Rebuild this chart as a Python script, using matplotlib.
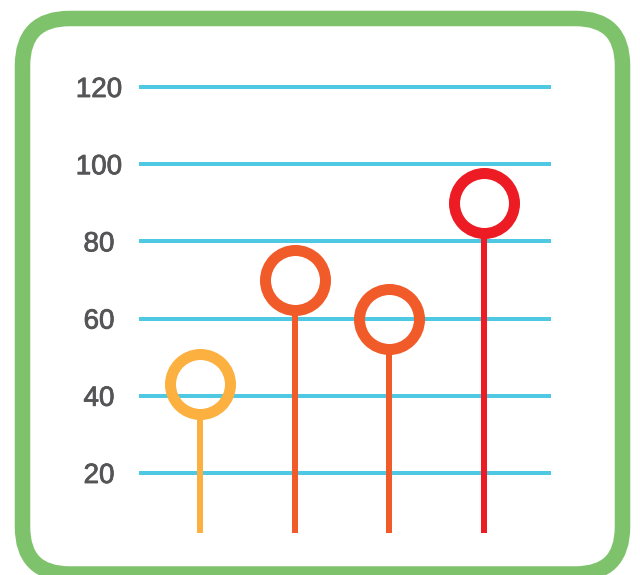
import matplotlib
matplotlib.use("Agg")
import matplotlib.pyplot as plt
from matplotlib.patches import FancyBboxPatch
import matplotlib.transforms as mtransforms
import matplotlib.patheffects as pe

# ---- data ----
categories = ["A", "B", "C", "D"]
values = [43, 70, 60, 90]
colors = ["#FBB040", "#F15A29", "#F15A29", "#ED1C24"]
tick_values = [20, 40, 60, 80, 100, 120]
tick_labels = ["20", "40", "60", "80", "100", "120"]
stem_base = 4.5

W, H, DPI = 640, 575, 100
fig = plt.figure(figsize=(W / DPI, H / DPI), dpi=DPI)
fig.patch.set_facecolor("white")

# green rounded frame (figure pixel coords, origin bottom-left)
frame = FancyBboxPatch((22.5, 1), 600, 555.5,
                       boxstyle="round,pad=0,rounding_size=47",
                       transform=None, facecolor="white",
                       edgecolor="#7EC36C", linewidth=15.5 * 72 / DPI, zorder=-5)
fig.patches.append(frame)

ax = fig.add_axes([0, 0, 1, 1], zorder=2)
ax.set_axis_off()
ax.patch.set_alpha(0)

px_x = 94.67   # pixels per category step
px_y = 3.86    # pixels per value unit
ax.set_xlim((0 - 200) / px_x, (640 - 200) / px_x)
ax.set_ylim(20 - (575 - 473) / px_y, 20 + 473 / px_y)

x = list(range(len(categories)))

# gridlines
gx0, gx1 = (139 - 200) / px_x, (551 - 200) / px_x
ax.hlines(tick_values, gx0, gx1, colors="#4FC8E3", linewidth=4 * 72 / DPI, zorder=1)

# labels
label_x = (99 - 200) / px_x
off = mtransforms.offset_copy(ax.transData, fig=fig, x=0, y=-10 * 72 / DPI, units="points")
for v, t in zip(tick_values, tick_labels):
    ax.text(label_x, v, t, transform=off, ha="center", va="baseline",
            fontsize=20, color="#555557", family=["Liberation Sans", "DejaVu Sans"],
            path_effects=[pe.withStroke(linewidth=0.6, foreground="#555557")])

# stems and rings
ring_outer_px = 35.5
for xi, v, c in zip(x, values, colors):
    top = v - ring_outer_px / px_y + 0.5
    ax.vlines(xi, stem_base, top, colors=c, linewidth=6 * 72 / DPI, zorder=2)
    ax.plot([xi], [v], marker="o", markersize=60 * 72 / DPI, markerfacecolor="none",
            markeredgecolor=c, markeredgewidth=11 * 72 / DPI, zorder=3, linestyle="none")

fig.savefig("out.png", dpi=DPI)
